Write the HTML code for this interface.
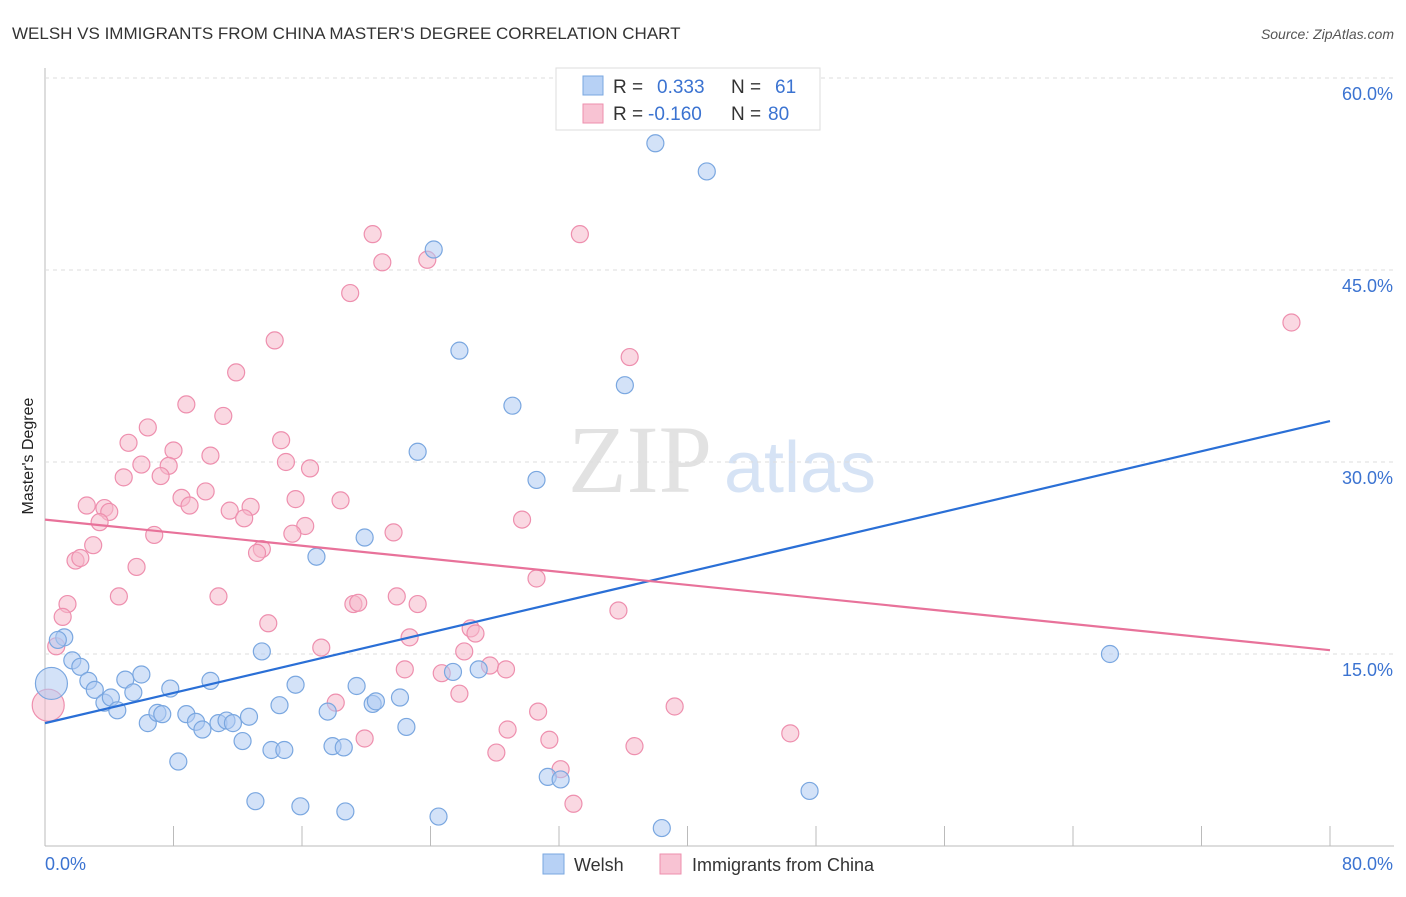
<!DOCTYPE html>
<html><head><meta charset="utf-8"><style>
body{margin:0;background:#fff;font-family:"Liberation Sans",sans-serif}
</style></head><body>
<svg id="chart" width="1406" height="892" xmlns="http://www.w3.org/2000/svg" font-family="Liberation Sans, sans-serif">
<text x="12" y="39" font-size="17" fill="#333">WELSH VS IMMIGRANTS FROM CHINA MASTER'S DEGREE CORRELATION CHART</text>
<text x="1394" y="39" font-size="14" fill="#555" font-style="italic" text-anchor="end">Source: ZipAtlas.com</text>
<text x="33" y="456" font-size="16" fill="#222" text-anchor="middle" transform="rotate(-90 33 456)">Master's Degree</text>
<text x="640" y="492" font-size="96" fill="#e2e2e2" font-family="Liberation Serif, serif" text-anchor="middle">ZIP</text>
<text x="800" y="492" font-size="72" fill="#d6e3f5" text-anchor="middle">atlas</text>
<g id="grid"></g><g id="marks"></g><g id="lines"></g>
<g>
<rect x="556" y="68" width="264" height="62" fill="#fff" stroke="#ddd"/>
<rect x="583" y="76" width="20" height="19" fill="#b7d1f5" stroke="#7aa7e0"/>
<rect x="583" y="104" width="20" height="19" fill="#f8c3d3" stroke="#ee8fae"/>
<text x="613" y="93" font-size="19" fill="#333">R = <tspan x="657" fill="#3b73d1">0.333</tspan><tspan x="731" fill="#333">N =</tspan><tspan x="775" fill="#3b73d1">61</tspan></text>
<text x="613" y="120" font-size="19" fill="#333">R = <tspan x="648" fill="#3b73d1">-0.160</tspan><tspan x="731" fill="#333">N =</tspan><tspan x="768" fill="#3b73d1">80</tspan></text>
</g>
<g>
<rect x="543" y="854" width="21" height="20" fill="#b7d1f5" stroke="#7aa7e0"/>
<text x="574" y="871" font-size="18" fill="#333">Welsh</text>
<rect x="660" y="854" width="21" height="20" fill="#f8c3d3" stroke="#ee8fae"/>
<text x="692" y="871" font-size="18" fill="#333">Immigrants from China</text>
</g>
</svg>
<script>
const yTicks=[15,30,45,60];
const yTickLabels=["15.0%","30.0%","45.0%","60.0%"];
const xTicks=[0,8,16,24,32,40,48,56,64,72,80];
const welshX=[38.0,41.2,24.2,25.8,36.1,29.1,23.2,30.6,19.9,16.9,66.3,13.5,1.2,0.8,1.7,2.2,2.7,3.1,3.7,4.1,4.5,5.0,5.5,6.0,6.4,7.0,7.3,7.8,8.3,8.8,9.4,9.8,10.3,10.8,11.3,11.7,12.3,12.7,13.1,14.1,14.6,14.9,15.6,15.9,17.6,17.9,18.6,18.7,19.4,20.4,20.6,22.1,22.5,24.5,25.4,27.0,31.3,32.1,38.4,47.6,0.4];
const welshY=[54.9,52.7,46.6,38.7,36.0,34.4,30.8,28.6,24.1,22.6,15.0,15.2,16.3,16.1,14.5,14.0,12.9,12.2,11.2,11.6,10.6,13.0,12.0,13.4,9.6,10.4,10.3,12.3,6.6,10.3,9.7,9.1,12.9,9.6,9.8,9.6,8.2,10.1,3.5,7.5,11.0,7.5,12.6,3.1,10.5,7.8,7.7,2.7,12.5,11.1,11.3,11.6,9.3,2.3,13.6,13.8,5.4,5.2,1.4,4.3,12.7];
const chinaX=[20.4,33.3,21.0,23.8,19.0,77.6,14.3,36.4,11.9,8.8,11.1,6.4,5.2,8.0,10.3,14.7,15.0,16.5,6.0,7.7,7.2,4.9,8.5,10.0,2.6,3.7,4.0,9.0,12.8,11.5,15.6,18.4,12.4,3.4,6.8,16.2,15.4,21.7,29.7,3.0,13.5,13.2,1.9,2.2,5.7,30.6,4.6,10.8,1.4,1.1,19.2,19.5,21.9,23.2,35.7,13.9,22.7,26.5,26.8,17.2,26.1,27.7,28.7,22.4,24.7,25.8,18.1,39.2,30.7,28.8,19.9,31.4,36.7,28.1,46.4,32.1,32.9,0.7,0.2];
const chinaY=[47.8,47.8,45.6,45.8,43.2,40.9,39.5,38.2,37.0,34.5,33.6,32.7,31.5,30.9,30.5,31.7,30.0,29.5,29.8,29.7,28.9,28.8,27.2,27.7,26.6,26.4,26.1,26.6,26.5,26.2,27.1,27.0,25.6,25.3,24.3,25.0,24.4,24.5,25.5,23.5,23.2,22.9,22.3,22.5,21.8,20.9,19.5,19.5,18.9,17.9,18.9,19.0,19.5,18.9,18.4,17.4,16.3,17.0,16.6,15.5,15.2,14.1,13.8,13.8,13.5,11.9,11.2,10.9,10.5,9.1,8.4,8.3,7.8,7.3,8.8,6.0,3.3,15.6,11.0];
const welshBig=[60];const chinaBig=[78];
const welshTrend=[9.6,33.2];
const chinaTrend=[25.5,15.3];
const NS="http://www.w3.org/2000/svg";
const X=v=>45+v*(1330-45)/80;
const Y=v=>846-v*12.8;
function mk(tag,attrs,parent){const e=document.createElementNS(NS,tag);for(const k in attrs)e.setAttribute(k,attrs[k]);document.getElementById(parent).appendChild(e);return e;}
let e;
e=mk('line',{x1:45,y1:68,x2:45,y2:846,stroke:'#bbb'},'grid');


e=mk('line',{x1:45,y1:846,x2:1394,y2:846,stroke:'#bbb'},'grid');


yTicks.forEach((t,i)=>{
 e=mk('line',{x1:45,y1:Y(t),x2:1394,y2:Y(t),stroke:'#ddd','stroke-dasharray':'4 4'},'grid');
 
 
 e=mk('text',{x:1393,y:Y(t)+22,'font-size':18,fill:'#3b73d1','text-anchor':'end'},'grid');
 e.textContent=yTickLabels[i];
 
 
});
xTicks.forEach(t=>{
 e=mk('line',{x1:X(t),y1:826,x2:X(t),y2:846,stroke:'#bbb'},'grid');
 
 
});
e=mk('text',{x:45,y:870,'font-size':18,fill:'#3b73d1'},'grid');e.textContent='0.0%';


e=mk('text',{x:1393,y:870,'font-size':18,fill:'#3b73d1','text-anchor':'end'},'grid');e.textContent='80.0%';


function pts(xs,ys,big,fill,stroke,name){
 xs.forEach((x,i)=>{
  const r=big.includes(i)?16:8.5;
  e=mk('circle',{cx:X(x),cy:Y(ys[i]),r:r,fill:fill,'fill-opacity':0.55,stroke:stroke,'stroke-width':1.2},'marks');
  
  
 });
}
pts(chinaX,chinaY,chinaBig,'#f6b8cb','#ee8fae','china-point');
pts(welshX,welshY,welshBig,'#aecbf2','#7aa7e0','welsh-point');
e=mk('line',{x1:X(0),y1:Y(welshTrend[0]),x2:X(80),y2:Y(welshTrend[1]),stroke:'#2a6fd6','stroke-width':2.2},'lines');


e=mk('line',{x1:X(0),y1:Y(chinaTrend[0]),x2:X(80),y2:Y(chinaTrend[1]),stroke:'#e8729a','stroke-width':2.2},'lines');


</script>
</body></html>
